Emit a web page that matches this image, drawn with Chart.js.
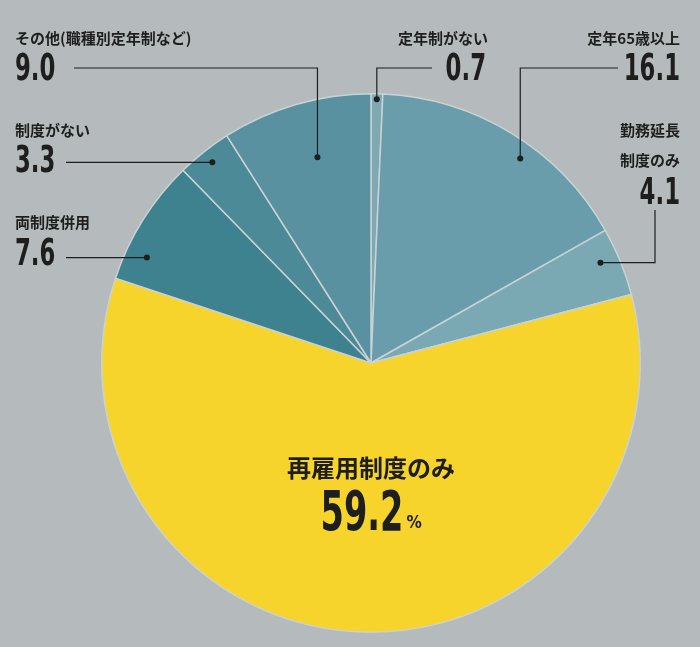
<!DOCTYPE html>
<html><head><meta charset="utf-8">
<script src="https://cdn.jsdelivr.net/npm/chart.js@4"></script>
<style>
html,body{margin:0;padding:0;background:#b5babc;}
#wrap{width:700px;height:647px;position:relative;}
</style></head>
<body><div id="wrap"><canvas id="pie"></canvas></div>
<script>
// 定年制度の内訳(%)
const categories = ['定年制がない', '定年65歳以上', '勤務延長制度のみ', '再雇用制度のみ', '両制度併用', '制度がない', 'その他(職種別定年制など)'];
const values = [0.7, 16.1, 4.1, 59.2, 7.6, 3.3, 9.0];
const valueLabels = ['0.7', '16.1', '4.1', '59.2', '7.6', '3.3', '9.0'];
const sliceColors = ['#7ea8b2', '#6a9dab', '#7aa8b3', '#f6d42b', '#3e8290', '#4d8a98', '#5a91a0'];

const JP_FONT = "bold 15px 'Noto Sans CJK JP', sans-serif";

// 細長い数字(横に縮めて描く)
function drawNum(ctx, text, x, y, size, align) {
  ctx.save();
  ctx.font = "bold " + size + "px 'DejaVu Sans', sans-serif";
  const sx = 0.6;
  const w = ctx.measureText(text).width * sx;
  let left = x;
  if (align === 'right') left = x - w;
  if (align === 'center') left = x - w / 2;
  ctx.translate(left, y);
  ctx.scale(sx, 1);
  ctx.textAlign = 'left';
  ctx.textBaseline = 'middle';
  ctx.fillText(text, 0, 0);
  ctx.restore();
  return w;
}

// 引き出し線: af=スライス内の角度位置, rf=半径比
const callouts = {
  0: {af: 0.5, rf: 0.98, path: (p) => [[p.x, 68], [432, 68]], title: [['定年制がない', 488, 38, 'right']], num: [486, 70, 'right']},
  1: {af: 0.58, rf: 0.94, path: (p) => [[p.x, 68], [618, 68]], title: [['定年65歳以上', 680, 38, 'right']], num: [680, 70, 'right']},
  2: {af: 0.4, rf: 0.93, path: (p) => [[655, p.y], [655, 210]], title: [['勤務延長', 680, 130, 'right'], ['制度のみ', 680, 160, 'right']], num: [680, 194, 'right']},
  4: {af: 0.25, rf: 0.92, path: (p) => [[66, p.y]], title: [['両制度併用', 15, 222, 'left']], num: [15, 255, 'left']},
  5: {af: 0.5, rf: 0.95, path: (p) => [[66, p.y]], title: [['制度がない', 15, 130, 'left']], num: [15, 162, 'left']},
  6: {af: 0.55, rf: 0.79, path: (p) => [[p.x, 68], [74, 68]], title: [['その他(職種別定年制など)', 15, 38, 'left']], num: [15, 70, 'left']}
};

const calloutPlugin = {
  id: 'callouts',
  afterDatasetsDraw(chart) {
    const ctx = chart.ctx;
    const arcs = chart.getDatasetMeta(0).data;
    ctx.save();
    ctx.strokeStyle = '#1e1e1e';
    ctx.fillStyle = '#1e1e1e';
    ctx.lineWidth = 1.2;
    Object.keys(callouts).forEach((k) => {
      const c = callouts[k];
      const a = arcs[k];
      const ang = a.startAngle + (a.endAngle - a.startAngle) * c.af;
      const p = {x: a.x + Math.cos(ang) * a.outerRadius * c.rf, y: a.y + Math.sin(ang) * a.outerRadius * c.rf};
      ctx.beginPath();
      ctx.moveTo(p.x, p.y);
      c.path(p).forEach(([x, y]) => ctx.lineTo(x, y));
      ctx.stroke();
      ctx.beginPath();
      ctx.arc(p.x, p.y, 3, 0, Math.PI * 2);
      ctx.fill();
      ctx.textBaseline = 'middle';
      ctx.font = JP_FONT;
      c.title.forEach(([t, x, y, al]) => { ctx.textAlign = al; ctx.fillText(t, x, y); });
      drawNum(ctx, valueLabels[k], c.num[0], c.num[1], 38, c.num[2]);
    });
    // 再雇用制度のみ
    ctx.textAlign = 'center';
    ctx.textBaseline = 'middle';
    ctx.font = "bold 24px 'Noto Sans CJK JP', sans-serif";
    ctx.fillText(categories[3], 371, 468);
    const w = drawNum(ctx, valueLabels[3], 362, 515, 56, 'center');
    ctx.font = "bold 17px 'DejaVu Sans Condensed', sans-serif";
    ctx.textAlign = 'left';
    ctx.fillText('%', 362 + w / 2 + 3, 524);
    ctx.restore();
  }
};

new Chart(document.getElementById('pie'), {
  type: 'pie',
  data: {
    labels: categories,
    datasets: [{data: values, backgroundColor: sliceColors, borderColor: '#c9d2d5', borderWidth: 1.5}]
  },
  options: {
    responsive: true,
    maintainAspectRatio: false,
    animation: false,
    rotation: 0,
    layout: {padding: {left: 42, right: 0, top: 93, bottom: 14}},
    plugins: {legend: {display: false}, tooltip: {enabled: false}}
  },
  plugins: [calloutPlugin]
});
</script></body></html>
